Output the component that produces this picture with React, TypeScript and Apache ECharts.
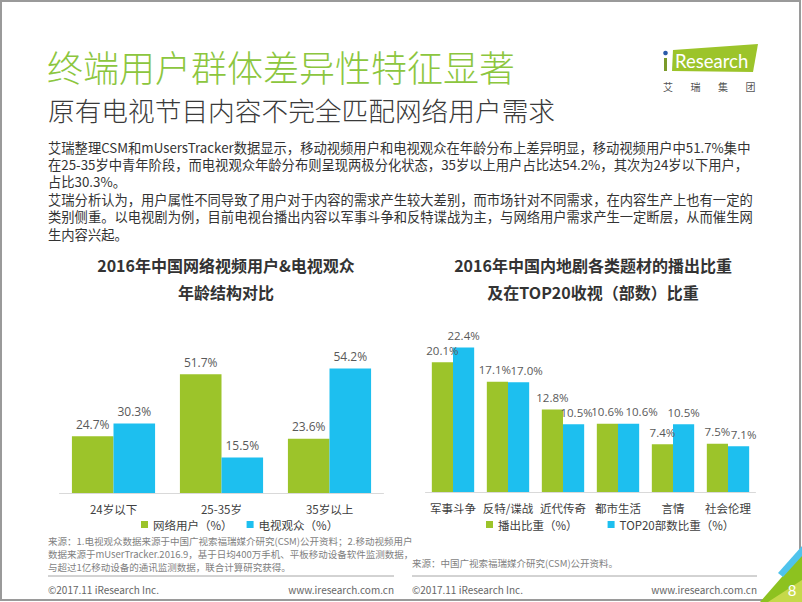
import React, { useEffect, useRef } from "react";
import * as echarts from "echarts";

const leftCategories = ["24岁以下", "25-35岁", "35岁以上"];
const netUserShare = [24.7, 51.7, 23.6];
const tvViewerShare = [30.3, 15.5, 54.2];
const leftLegend = ["网络用户（%）", "电视观众（%）"];

const rightCategories = ["军事斗争", "反特/谍战", "近代传奇", "都市生活", "言情", "社会伦理"];
const broadcastShare = [20.1, 17.1, 12.8, 10.6, 7.4, 7.5];
const top20Share = [22.4, 17.0, 10.5, 10.6, 10.5, 7.1];
const rightLegend = ["播出比重（%）", "TOP20部数比重（%）"];

// horizontal nudges of value labels (as in the reference, crowded labels are pushed apart)
const broadcastLabelNudge = [0, -2.5, 0, 0, 0, 0];
const top20LabelNudge = [0, 8, 3, 13, 0, 5];

const titleMain = "终端用户群体差异性特征显著";
const titleSub = "原有电视节目内容不完全匹配网络用户需求";
const paragraphLines = [
  "艾瑞整理CSM和mUsersTracker数据显示，移动视频用户和电视观众在年龄分布上差异明显，移动视频用户中51.7%集中",
  "在25-35岁中青年阶段，而电视观众年龄分布则呈现两极分化状态，35岁以上用户占比达54.2%，其次为24岁以下用户，",
  "占比30.3%。",
  "艾瑞分析认为，用户属性不同导致了用户对于内容的需求产生较大差别，而市场针对不同需求，在内容生产上也有一定的",
  "类别侧重。以电视剧为例，目前电视台播出内容以军事斗争和反特谍战为主，与网络用户需求产生一定断层，从而催生网",
  "生内容兴起。",
];
const leftChartTitle = ["2016年中国网络视频用户&电视观众", "年龄结构对比"];
const rightChartTitle = ["2016年中国内地剧各类题材的播出比重", "及在TOP20收视（部数）比重"];
const leftSource = [
  "来源：1.电视观众数据来源于中国广视索福瑞媒介研究(CSM)公开资料；2.移动视频用户",
  "数据来源于mUserTracker.2016.9，基于日均400万手机、平板移动设备软件监测数据，",
  "与超过1亿移动设备的通讯监测数据，联合计算研究获得。",
];
const rightSource = "来源：中国广视索福瑞媒介研究(CSM)公开资料。";
const copyright = "©2017.11 iResearch Inc.";
const website = "www.iresearch.com.cn";
const pageNumber = "8";
const logoSub = ["艾", "瑞", "集", "团"];

const GREEN = "#9CC42A";
const BLUE = "#1DBFEF";
const CJK = "'Noto Sans CJK SC', sans-serif";
const NUM = "'Open Sans', 'Noto Sans CJK SC', sans-serif";

function txt(x: number, y: number, text: string, size: number, fill: string, extra: any = {}) {
  return {
    type: "text",
    x,
    y,
    silent: true,
    style: {
      text,
      fontSize: size,
      lineHeight: Math.round(size * 1.15),
      fontFamily: extra.fontFamily || CJK,
      fontWeight: extra.fontWeight || "normal",
      fill,
      align: extra.align || "left",
      textAlign: extra.align || "left",
      verticalAlign: "middle",
      textVerticalAlign: "middle",
    },
  };
}

const fmt = (p: any) => Number(p.value).toFixed(1) + "%";

export default function App() {
  const ref = useRef<HTMLDivElement>(null);
  useEffect(() => {
    if (!ref.current) return;
    const chart = echarts.init(ref.current, undefined, { renderer: "svg" });

    const graphics: any[] = [];
    graphics.push({
      type: "rect",
      silent: true,
      shape: { x: 1, y: 1, width: 799, height: 599 },
      style: { fill: "none", stroke: "#9a9a9a", lineWidth: 2 },
    });
    graphics.push(txt(47, 66, titleMain, 36, "#8CC63E", { fontWeight: 300 }));
    graphics.push(txt(48, 109, titleSub, 26.7, "#3a3a3a", { fontWeight: 300 }));
    paragraphLines.forEach((l, i) => graphics.push(txt(48, 147 + i * 17.4, l, 13.3, "#333333")));

    // logo
    graphics.push({
      type: "polygon",
      silent: true,
      shape: { points: [[673, 50], [758, 44], [753, 72], [672, 71]] },
      style: { fill: "#9CC42A" },
    });
    graphics.push({
      type: "rect",
      silent: true,
      shape: { x: 664, y: 58, width: 3, height: 13 },
      style: { fill: "#7a9a2a" },
    });
    graphics.push({
      type: "circle",
      silent: true,
      shape: { cx: 665.5, cy: 53, r: 2.3 },
      style: { fill: "#2a5aa8" },
    });
    graphics.push(txt(675, 61, "Research", 18.5, "#ffffff", { fontFamily: "Lato, sans-serif" }));
    logoSub.forEach((c, i) => graphics.push(txt(668 + i * 27.5, 86, c, 10, "#555555", { align: "center" })));

    // chart titles
    leftChartTitle.forEach((t, i) =>
      graphics.push(txt(226, 265 + i * 27, t, 16, "#333333", { align: "center", fontWeight: "bold" }))
    );
    rightChartTitle.forEach((t, i) =>
      graphics.push(txt(593, 265 + i * 27, t, 16, "#333333", { align: "center", fontWeight: "bold" }))
    );

    // sources
    leftSource.forEach((t, i) => graphics.push(txt(48, 541 + i * 13, t, 9.5, "#7f7f7f")));
    graphics.push(txt(412, 563, rightSource, 9.5, "#7f7f7f"));

    // footer
    graphics.push({
      type: "line",
      silent: true,
      shape: { x1: 48, y1: 576, x2: 394, y2: 576 },
      style: { stroke: "#a6a6a6", lineWidth: 1 },
    });
    graphics.push({
      type: "line",
      silent: true,
      shape: { x1: 412, y1: 576, x2: 757, y2: 576 },
      style: { stroke: "#a6a6a6", lineWidth: 1 },
    });
    graphics.push(txt(48, 589, copyright, 10, "#666666"));
    graphics.push(txt(394, 589, website, 10, "#666666", { align: "right" }));
    graphics.push(txt(412, 589, copyright, 10, "#666666"));
    graphics.push(txt(757, 589, website, 10, "#666666", { align: "right" }));

    // corner decoration
    graphics.push({
      type: "polygon",
      silent: true,
      shape: { points: [[760, 602], [802, 554], [802, 602]] },
      style: { fill: "#8DC21F" },
    });
    graphics.push({
      type: "polygon",
      silent: true,
      shape: { points: [[768, 602], [802, 580], [802, 602]] },
      style: { fill: "#C5D94A" },
    });
    graphics.push({
      type: "polygon",
      silent: true,
      shape: { points: [[778, 573], [802, 546], [802, 556], [783, 577]] },
      style: { fill: "#4FC3EC" },
    });
    graphics.push(txt(792, 590, pageNumber, 15, "#ffffff", { align: "center", fontFamily: "Lato, sans-serif" }));

    const catAxis = (gridIndex: number, data: string[]) => ({
      type: "category",
      gridIndex,
      data,
      axisLine: { lineStyle: { color: "#d9d9d9", width: 1 } },
      axisTick: { show: false },
      axisLabel: {
        fontSize: 11.5,
        lineHeight: 13,
        color: "#404040",
        margin: 9,
        fontFamily: CJK,
        interval: 0,
      },
    });
    const valAxis = (gridIndex: number, max: number) => ({
      type: "value",
      gridIndex,
      min: 0,
      max,
      show: false,
      splitLine: { show: false },
    });
    const barSeries = (
      name: string,
      data: number[],
      color: string,
      idx: number,
      fontSize: number,
      nudge?: number[]
    ) => ({
      name,
      type: "bar",
      xAxisIndex: idx,
      yAxisIndex: idx,
      data: nudge
        ? data.map((v, i) => ({ value: v, label: { offset: [nudge[i], 0] } }))
        : data,
      barGap: "0%",
      barCategoryGap: "23%",
      itemStyle: { color },
      label: {
        show: true,
        position: "top",
        distance: 5,
        fontSize,
        lineHeight: 14,
        color: "#595959",
        fontFamily: NUM,
        formatter: fmt,
      },
    });

    const legendBase = {
      top: 513,
      padding: [5, 5, 2, 5],
      icon: "rect",
      itemWidth: 7,
      itemHeight: 7,
      textStyle: { fontSize: 11.5, lineHeight: 13, color: "#404040", fontFamily: CJK },
      selectedMode: false,
    };

    chart.setOption({
      animation: false,
      backgroundColor: "#ffffff",
      grid: [
        { left: 59.5, top: 355.3, width: 324, height: 137.7 },
        { left: 425.5, top: 330.75, width: 330, height: 161.25 },
      ],
      xAxis: [catAxis(0, leftCategories), catAxis(1, rightCategories)],
      yAxis: [valAxis(0, 60), valAxis(1, 25)],
      legend: [
        { ...legendBase, data: leftLegend, left: 136, itemGap: 14 },
        { ...legendBase, data: rightLegend, left: 481, itemGap: 30 },
      ],
      series: [
        barSeries(leftLegend[0], netUserShare, GREEN, 0, 12),
        barSeries(leftLegend[1], tvViewerShare, BLUE, 0, 12),
        barSeries(rightLegend[0], broadcastShare, GREEN, 1, 11.5, broadcastLabelNudge),
        barSeries(rightLegend[1], top20Share, BLUE, 1, 11.5, top20LabelNudge),
      ],
      graphic: graphics,
    });
    return () => chart.dispose();
  }, []);
  return (
    <div
      ref={ref}
      style={{ position: "fixed", left: 0, top: 0, width: 802, height: 602, background: "#fff" }}
    />
  );
}
